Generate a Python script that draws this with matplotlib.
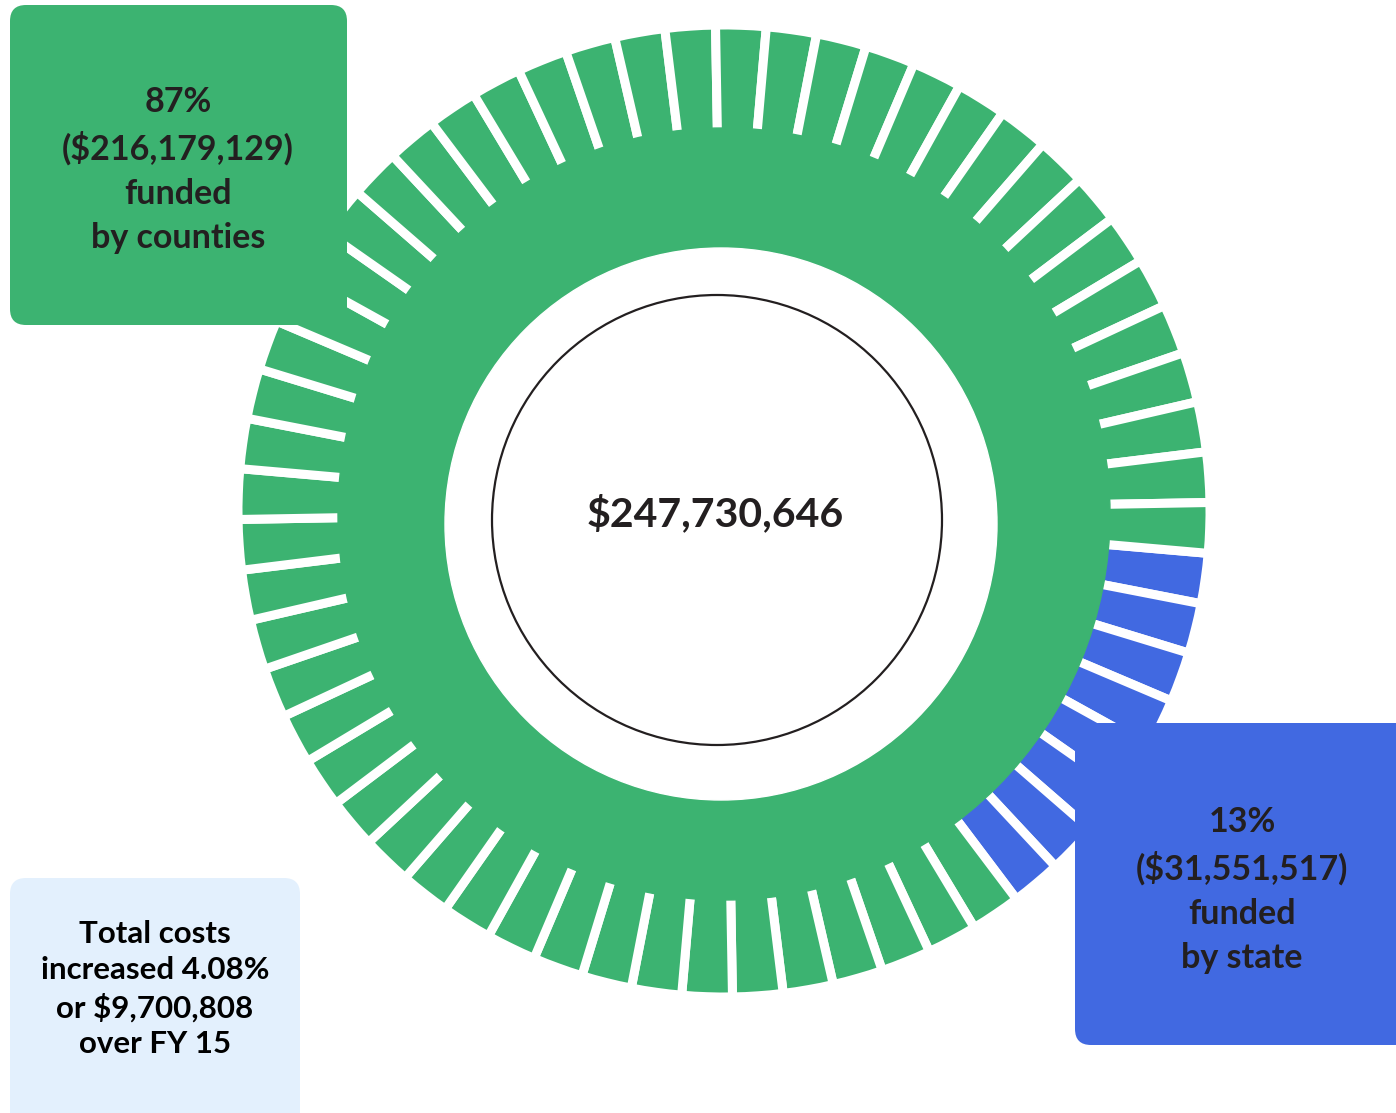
import numpy as np
import matplotlib
matplotlib.use("Agg")
import matplotlib.pyplot as plt
from matplotlib.patches import Circle, FancyBboxPatch

# funding split, FY16 court costs
labels = ["state", "counties"]
shares = [13, 87]                      # percent
amounts = [31551517, 216179129]        # dollars
total = 247730646
increase_pct = 4.08
increase_amt = 9700808

W, H = 1396, 1113
green = "#3cb371"
blue = "#4169e1"
light = "#e3f0fd"
ink = "#231f20"
fonts = ["Lato", "DejaVu Sans"]

def Y(y):
    # picture rows run downwards, the axes run upwards
    return H - y

n_teeth = 60
n_state = int(round(shares[0] / 100 * n_teeth))
teeth = [1] * n_teeth
colors = [blue] * n_state + [green] * (n_teeth - n_state)

fig = plt.figure(figsize=(W / 100, H / 100), dpi=100)
ax = fig.add_axes([0, 0, 1, 1])

ax.pie(teeth, colors=colors, radius=486, center=(724, Y(511)),
       startangle=-5, counterclock=False,
       wedgeprops=dict(edgecolor="white", linewidth=6.5))

# solid ring under the teeth, white hole and thin outline
ax.add_patch(Circle((724, Y(514)), 386, color=green, zorder=3))
ax.add_patch(Circle((721, Y(524)), 276, color="white", zorder=4))
ax.add_patch(Circle((717, Y(520)), 225, facecolor="white", edgecolor=ink,
                    linewidth=1.6, zorder=5))

ax.text(715, Y(514), "${:,}".format(total), ha="center", va="center",
        fontsize=29.5, fontweight="bold", color=ink, family=fonts, zorder=6)

# label boxes
ax.add_patch(FancyBboxPatch((10, Y(325)), 337, 320,
                            boxstyle="round,pad=0,rounding_size=16",
                            facecolor=green, edgecolor="none", zorder=7))
ax.text(178, Y(170), "{}%\n(${:,})\nfunded\nby counties".format(shares[1], amounts[1]),
        ha="center", va="center", fontsize=24.5, fontweight="bold", color=ink,
        family=fonts, linespacing=1.47, zorder=8)

ax.add_patch(FancyBboxPatch((1075, Y(1045)), 360, 322,
                            boxstyle="round,pad=0,rounding_size=16",
                            facecolor=blue, edgecolor="none", zorder=7))
ax.text(1242, Y(890), "{}%\n(${:,})\nfunded\nby state".format(shares[0], amounts[0]),
        ha="center", va="center", fontsize=24.5, fontweight="bold", color=ink,
        family=fonts, linespacing=1.47, zorder=8)

ax.add_patch(FancyBboxPatch((10, Y(1140)), 290, 262,
                            boxstyle="round,pad=0,rounding_size=16",
                            facecolor=light, edgecolor="none", zorder=7))
ax.text(155, Y(989), "Total costs\nincreased {}%\nor ${:,}\nover FY 15".format(increase_pct, increase_amt),
        ha="center", va="center", fontsize=22.5, fontweight="bold", color="black",
        family=fonts, linespacing=1.36, zorder=8)

ax.set_xlim(0, W)
ax.set_ylim(0, H)
ax.set_aspect("equal")
ax.axis("off")

fig.savefig("out.png", dpi=100)
